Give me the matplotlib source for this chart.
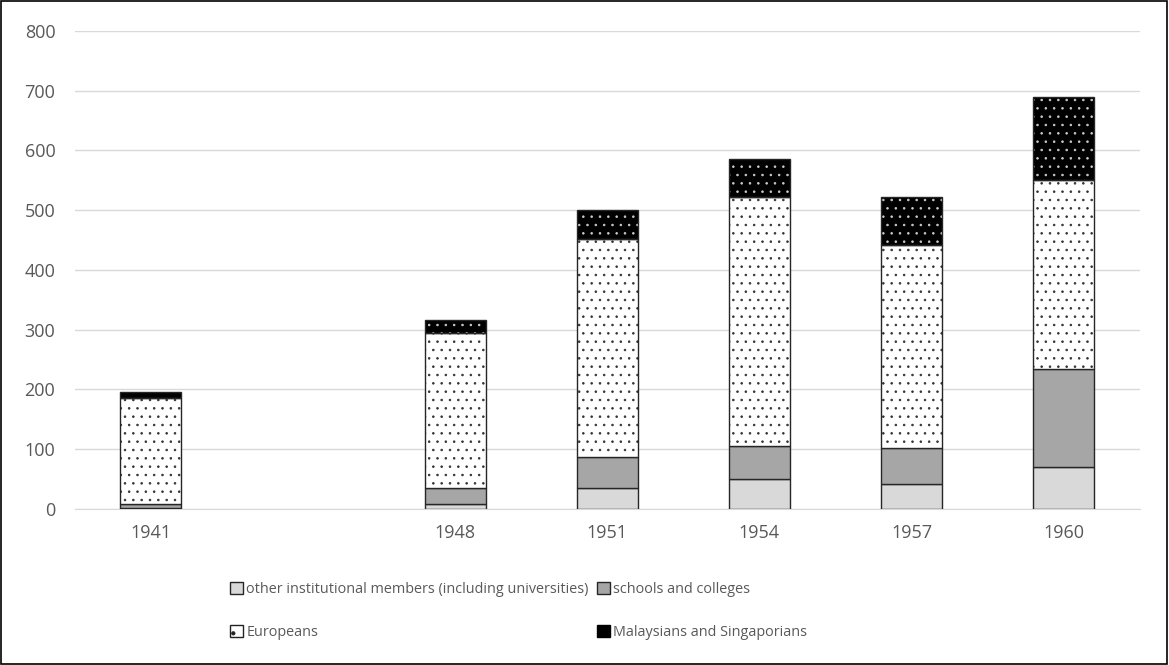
import numpy as np
import matplotlib.pyplot as plt
from matplotlib.patches import Patch, Rectangle

# ── data ──────────────────────────────────────────────────────────────────────
years      = ["1941", "", "1948", "1951", "1954", "1957", "1960"]
other_inst = [1, 0, 8, 35, 50, 42, 70]
schools    = [7, 0, 27, 52, 55, 60, 164]
europeans  = [178, 0, 260, 365, 417, 340, 317]
malaysians = [9, 0, 22, 48, 64, 80, 139]

LABELS = [
    "other institutional members (including universities)",
    "schools and colleges",
    "Europeans",
    "Malaysians and Singaporians",
]

plt.rcParams["font.family"] = ["Open Sans", "DejaVu Sans"]
plt.rcParams["hatch.linewidth"] = 0.6

fig = plt.figure(figsize=(11.69, 6.65), dpi=100)
ax = fig.add_axes([0.064, 0.2346, 0.911, 0.7188])

x = np.arange(len(years))
# the empty slot between 1941 and 1948 has no bar
keep = np.array([y != "" for y in years])
xs = x[keep]
other_a = np.array(other_inst, float)[keep]
school_a = np.array(schools, float)[keep]
euro_a = np.array(europeans, float)[keep]
malay_a = np.array(malaysians, float)[keep]

w = 0.4
edge = "#262626"

bottom = np.zeros(len(xs))
ax.bar(xs, other_a, w, color="#d9d9d9", edgecolor=edge, lw=1.0, zorder=3)
bottom += other_a
ax.bar(xs, school_a, w, bottom=bottom, color="#a6a6a6", edgecolor=edge, lw=1.0, zorder=3)
bottom += school_a

# dotted segments: hatch layer first, then the outline on top
ax.bar(xs, euro_a, w, bottom=bottom, color="white", edgecolor="#333333",
       hatch="..", lw=0, zorder=3)
ax.bar(xs, euro_a, w, bottom=bottom, fill=False, edgecolor=edge, lw=1.0, zorder=4)
bottom += euro_a
ax.bar(xs, malay_a, w, bottom=bottom, color="black", edgecolor="#cccccc",
       hatch="..", lw=0, zorder=3)
ax.bar(xs, malay_a, w, bottom=bottom, fill=False, edgecolor=edge, lw=1.0, zorder=4)

ax.set_xlim(-0.5, len(years) - 0.5)
ax.set_ylim(0, 800)
ax.set_yticks(range(0, 801, 100))
ax.set_xticks(x)
ax.set_xticklabels(years)
ax.tick_params(length=0, labelsize=13, colors="#595959")
ax.tick_params(axis="y", pad=14)
ax.tick_params(axis="x", pad=11)
ax.grid(axis="y", color="#d9d9d9", lw=1.0, zorder=0)
for s in ["top", "right", "left"]:
    ax.spines[s].set_visible(False)
ax.spines["bottom"].set_color("#d9d9d9")

handles = [
    Patch(facecolor="#d9d9d9", edgecolor=edge),
    Patch(facecolor="white", edgecolor="#222222", hatch="."),
    Patch(facecolor="#a6a6a6", edgecolor=edge),
    Patch(facecolor="black", edgecolor="black"),
]
order = [LABELS[0], LABELS[2], LABELS[1], LABELS[3]]
leg = fig.legend(handles, order, ncol=2, loc="upper left",
                 bbox_to_anchor=(0.197, 0.125), frameon=False,
                 fontsize=10.4, handlelength=0.85, handleheight=0.85,
                 handletextpad=0.25, columnspacing=0.6, labelspacing=1.95,
                 borderaxespad=0, borderpad=0)
for t in leg.get_texts():
    t.set_color("#595959")

# outer border
fig.patches.append(Rectangle((0.001, 0.002), 0.997, 0.996, transform=fig.transFigure,
                             fill=False, edgecolor="black", lw=1.2))

fig.savefig("out.png", dpi=100)
